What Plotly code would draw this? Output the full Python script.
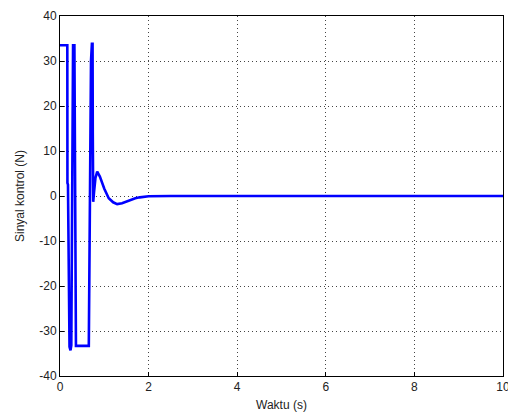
import plotly.graph_objects as go

# Time (s) and control signal (N)
waktu = [0.0, 0.165, 0.168, 0.18, 0.215, 0.237, 0.255, 0.285, 0.295, 0.325, 0.345, 0.36,
         0.65, 0.66, 0.67, 0.685, 0.70, 0.72, 0.735, 0.74, 0.75, 0.77, 0.80, 0.84, 0.90,
         1.0, 1.1, 1.2, 1.29, 1.4, 1.5, 1.6, 1.7, 1.8, 1.9, 2.0, 2.5, 3.0, 4.0, 5.0, 6.0,
         7.0, 8.0, 9.0, 10.0]
sinyal = [33.5, 33.5, 2.9, 2.5, -33.5, -34.3, -33.2, 33.5, 33.5, 33.5, -33.3, -33.3,
          -33.3, -18.0, -3.0, 24.0, 30.0, 33.8, 33.8, 14.0, -1.3, 1.0, 4.0, 5.4, 4.3,
          1.6, -0.5, -1.4, -1.8, -1.6, -1.2, -0.8, -0.5, -0.3, -0.15, -0.05, 0.0, 0.0, 0.0,
          0.0, 0.0, 0.0, 0.0, 0.0, 0.0]

x_ticks = [0, 2, 4, 6, 8, 10]
y_ticks = [-40, -30, -20, -10, 0, 10, 20, 30, 40]

fig = go.Figure()
fig.add_trace(go.Scatter(x=waktu, y=sinyal, mode="lines",
                         line=dict(color="#0000FF", width=2.6), showlegend=False))

font = dict(family="Liberation Sans, Arial, sans-serif", size=12, color="#222")
axis_common = dict(showline=True, linecolor="black", linewidth=1, mirror=True,
                   ticks="inside", ticklen=4, tickcolor="black",
                   showgrid=True, gridcolor="#444", gridwidth=1, griddash="1px,3px",
                   zeroline=False, tickfont=font, ticklabeloverflow="allow",
                   automargin=False)

fig.update_layout(
    width=508, height=420,
    margin=dict(l=60, r=5, t=16, b=44),
    paper_bgcolor="white", plot_bgcolor="white",
    font=font,
    xaxis=dict(range=[0, 10], tickvals=x_ticks, ticktext=[str(v) for v in x_ticks],
               title=dict(text="Waktu (s)", font=font, standoff=7), **axis_common),
    yaxis=dict(range=[-40, 40], tickvals=y_ticks, ticktext=[str(v) for v in y_ticks],
               title=dict(text="Sinyal kontrol (N)", font=font, standoff=12), **axis_common),
)

fig.write_html("out.html")
